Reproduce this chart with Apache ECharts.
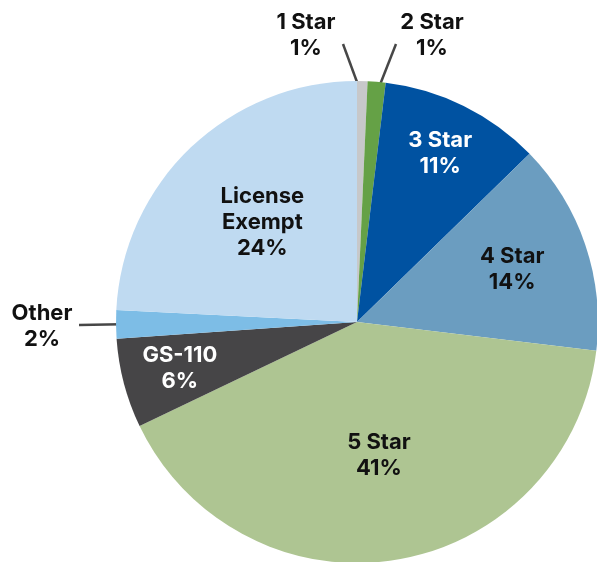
<!DOCTYPE html>
<html>
<head>
<meta charset="utf-8">
<script src="https://cdn.jsdelivr.net/npm/echarts@6/dist/echarts.min.js"></script>
<style>
  html, body { margin: 0; padding: 0; background: #fff; }
  #chart { width: 597px; height: 562px; }
</style>
</head>
<body>
<div id="chart"></div>
<script>
// rating mix, clockwise from 12 o'clock
var categories = ['1 Star', '2 Star', '3 Star', '4 Star', '5 Star', 'GS-110', 'Other', 'License Exempt'];
var labelNames = ['1 Star', '2 Star', '3 Star', '4 Star', '5 Star', 'GS-110', 'Other', 'License\nExempt'];
var shares = [0.7, 1.2, 10.8, 14.2, 41.0, 6.0, 1.9, 24.2];
var colors = ['#c7c8ca', '#65a146', '#0052a1', '#6b9dc0', '#aec592', '#464547', '#7dbde6', '#bfdaf1'];
var textColors = ['#111', '#111', '#fff', '#111', '#111', '#fff', '#111', '#111'];

var CX = 357, CY = 322, R = 241;
// where each label sits: inside ones at a fraction of the radius, outside ones with a leader line
var spots = [
  { out: true, at: [306, 35], end: [343, 44], f: 0.94 },
  { out: true, at: [432, 35], end: [396, 44], f: 0.94 },
  { f: 0.78 }, { f: 0.68 }, { f: 0.56 }, { f: 0.76 },
  { out: true, at: [42, 326], end: [79, 325], f: 0.92 },
  { f: 0.57 }
];

var total = shares.reduce(function (a, b) { return a + b; }, 0);
var mids = [], acc = 0;
shares.forEach(function (v) { mids.push((acc + v / 2) / total * Math.PI * 2); acc += v; });
function polar(i, f) {
  return [CX + Math.sin(mids[i]) * R * f, CY - Math.cos(mids[i]) * R * f];
}

var data = categories.map(function (c, i) {
  var item = { name: c, value: shares[i], itemStyle: { color: colors[i] },
    label: { color: textColors[i] } };
  if (spots[i].out) {
    item.label.position = 'outside';
    item.labelLine = { show: true, lineStyle: { color: '#474747', width: 2.5 } };
  }
  return item;
});

var chart = echarts.init(document.getElementById('chart'));
chart.setOption({
  animation: false,
  series: [{
    type: 'pie',
    center: [CX, CY],
    radius: [0, R],
    startAngle: 90,
    clockwise: true,
    avoidLabelOverlap: false,
    data: data,
    label: {
      show: true, position: 'inside',
      fontFamily: 'Inter', fontWeight: 'bold', fontSize: 22, lineHeight: 26,
      formatter: function (p) { return labelNames[p.dataIndex] + '\n' + Math.round(p.percent) + '%'; }
    },
    labelLine: { show: false },
    emphasis: { disabled: true },
    labelLayout: function (p) {
      var s = spots[p.dataIndex];
      if (s.out) {
        var inner = polar(p.dataIndex, s.f);
        return { x: s.at[0], y: s.at[1], align: 'center', verticalAlign: 'middle',
          hideOverlap: false, labelLinePoints: [inner, s.end, s.end] };
      }
      var c = polar(p.dataIndex, s.f);
      return { x: c[0], y: c[1], align: 'center', verticalAlign: 'middle', hideOverlap: false };
    }
  }]
});
</script>
</body>
</html>
